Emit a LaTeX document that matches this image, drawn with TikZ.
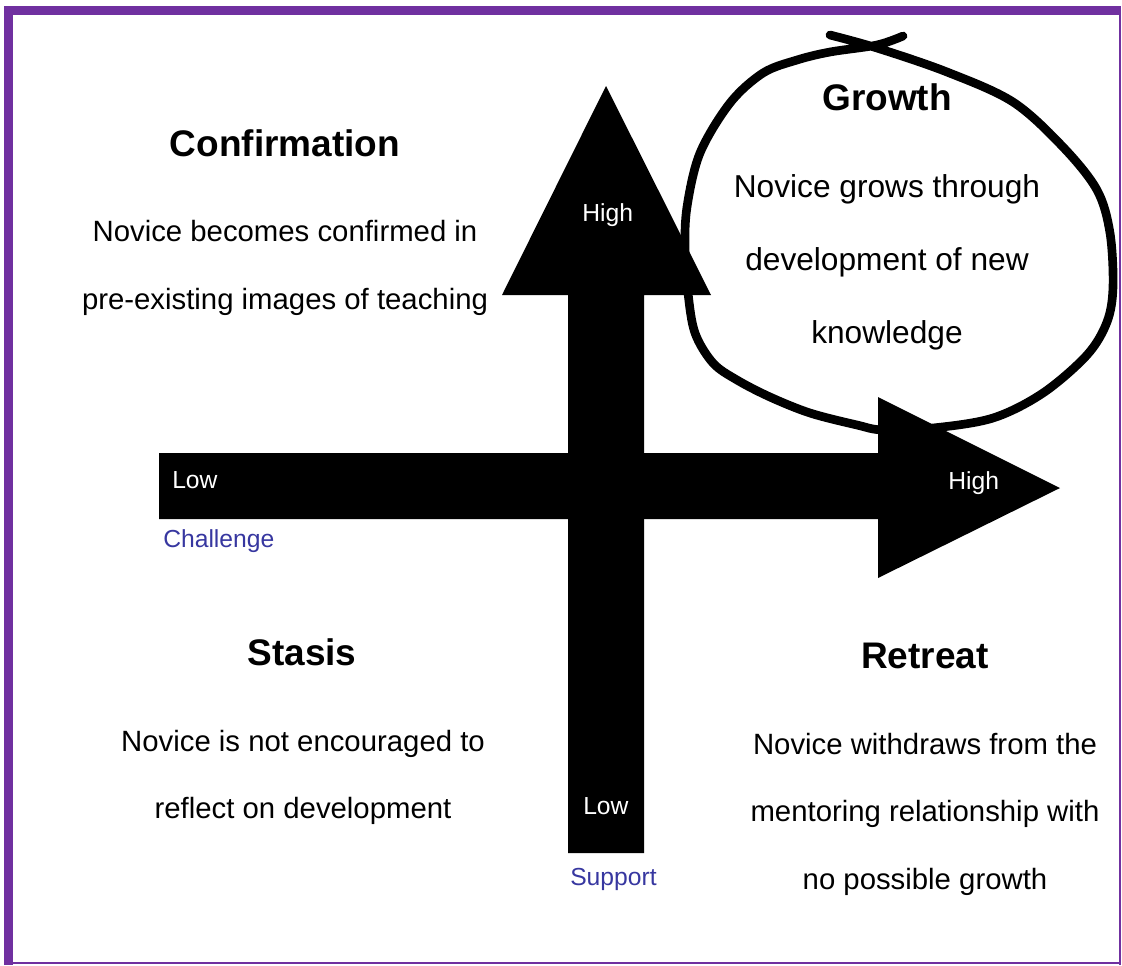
\documentclass[tikz,border=0pt]{standalone}
\usepackage{fontspec}
\setmainfont{Liberation Sans}
\definecolor{framepurple}{RGB}{112,48,160}
\definecolor{labelblue}{RGB}{55,55,160}
\tikzset{
  heading/.style={inner sep=0pt, anchor=base, font=\fontsize{27.75}{30}\selectfont\bfseries},
  body/.style={inner sep=0pt, anchor=base, font=\fontsize{22}{24}\selectfont},
  gbody/.style={inner sep=0pt, anchor=base, font=\fontsize{23.75}{26}\selectfont},
  inlabel/.style={inner sep=0pt, anchor=base west, text=white, font=\fontsize{18.5}{20}\selectfont},
  axislabel/.style={inner sep=0pt, anchor=base west, text=labelblue, font=\fontsize{18.5}{20}\selectfont},
  arrowshape/.style={fill=black},
  loopline/.style={draw=black, line width=6.5pt, line join=round, line cap=round}
}
\begin{document}
\begin{tikzpicture}[x=0.75pt,y=-0.75pt]
\useasboundingbox (0,0) rectangle (1122,965);
% frame
\fill[framepurple] (4,6) rectangle (13,965);
\fill[framepurple] (4,6) rectangle (1121,15);
\fill[framepurple] (1119,6) rectangle (1121,965);
\fill[framepurple] (4,962) rectangle (1121,964);
% vertical arrow (Support)
\fill[arrowshape] (568,853) -- (568,295) -- (502,295) -- (606,86) -- (711,295) -- (644,295) -- (644,853) -- cycle;
% horizontal arrow (Challenge)
\fill[arrowshape] (159,453) -- (878,453) -- (878,397) -- (1060,488) -- (878,578) -- (878,519) -- (159,519) -- cycle;
% growth loop
\draw[loopline] plot[smooth, tension=0.55] coordinates {
 (830,35) (877,48) (947,72) (1013,102) (1063,147) (1097,190) (1110,233) (1113,287)
 (1107,322) (1087,355) (1043,393) (993,418) (933,428) (883,430) (857,425) (810,413)
 (770,397) (737,380) (713,363) (695,333) (688,293) (685,250) (687,207) (700,153)
 (730,103) (763,73) (797,60) (830,52) (877,45) (903,36)};
% axis labels
\node[inlabel] (hightop) at (582,221) {High};
\node[inlabel] (lowleft) at (172,488) {Low};
\node[inlabel] (highright) at (948,489) {High};
\node[inlabel] (lowbottom) at (583,814) {Low};
\node[axislabel] (challenge) at (163,547) {Challenge};
\node[axislabel] (support) at (570,885) {Support};
% quadrant texts
\node[heading] (confh) at (285,156) {Confirmation};
\node[body] (conf1) at (285,241) {Novice becomes confirmed in};
\node[body] (conf2) at (285,309) {pre-existing images of teaching};
\node[heading] (growh) at (887,110) {Growth};
\node[gbody] (grow1) at (887,197) {Novice grows through};
\node[gbody] (grow2) at (887,270) {development of new};
\node[gbody] (grow3) at (887,343) {knowledge};
\node[heading] (stash) at (302,665) {Stasis};
\node[body] (stas1) at (303,751) {Novice is not encouraged to};
\node[body] (stas2) at (303,818) {reflect on development};
\node[heading] (retrh) at (925,668) {Retreat};
\node[body] (retr1) at (925,754) {Novice withdraws from the};
\node[body] (retr2) at (925,821) {mentoring relationship with};
\node[body] (retr3) at (925,889) {no possible growth};
\end{tikzpicture}
\end{document}
